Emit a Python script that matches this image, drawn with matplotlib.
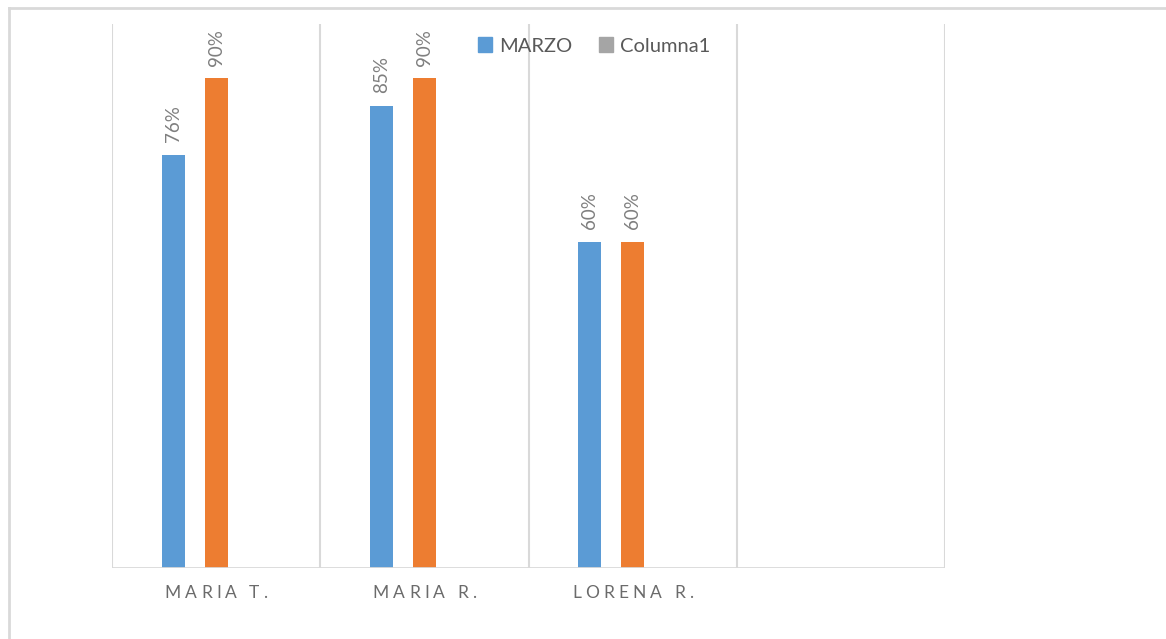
import matplotlib.pyplot as plt
import numpy as np
from matplotlib.lines import Line2D
from matplotlib.patches import Patch

# data
categories = ["MARIA T.", "MARIA R.", "LORENA R.", ""]
marzo = [0.76, 0.85, 0.60, np.nan]
serie2 = [0.90, 0.90, 0.60, np.nan]
columna1 = [np.nan, np.nan, np.nan, np.nan]

blue = "#5b9bd5"
orange = "#ed7d31"
gray = "#a5a5a5"
grid_c = "#d9d9d9"
text_c = "#595959"

plt.rcParams['font.family'] = ['Lato', 'DejaVu Sans']

fig = plt.figure(figsize=(11.66, 6.39), dpi=100)
ax = fig.add_axes([112 / 1166, 1 - 568 / 639, (945 - 112) / 1166, (568 - 24) / 639])

x = np.arange(len(categories))
off = 0.2065
w = 0.11

b1 = ax.bar(x - off, marzo, w, color=blue, zorder=3)
b2 = ax.bar(x, serie2, w, color=orange, zorder=3)
b3 = ax.bar(x + off, columna1, w, color=gray, zorder=3)

for bars, vals in [(b1, marzo), (b2, serie2)]:
    for rect, v in zip(bars, vals):
        if np.isnan(v):
            continue
        ax.annotate(f"{v:.0%}", (rect.get_x() + rect.get_width() / 2, v),
                    xytext=(0, 9), textcoords="offset points",
                    rotation=90, ha="center", va="bottom",
                    fontsize=13.5, color="#7f7f7f")

ax.set_xlim(-0.5, len(categories) - 0.5)
ax.set_ylim(0, 1.0)

# category separators
for xv in np.arange(len(categories) + 1) - 0.5:
    ax.axvline(xv, color=grid_c, lw=1.5, zorder=1)
ax.axhline(0, color=grid_c, lw=2, zorder=4)

for s in ax.spines.values():
    s.set_visible(False)
ax.set_yticks([])
ax.set_xticks([])

# category labels with wide letter spacing, like the Excel style
renderer = fig.canvas.get_renderer()
track = 4.2  # extra pixels between letters
lab_kw = dict(fontsize=12.5, color="#6b6b6b")
for xi, name in zip(x, categories):
    if not name:
        continue
    widths = []
    for ch in name:
        t = fig.text(0, 0, ch if ch != " " else "i", **lab_kw)
        widths.append(t.get_window_extent(renderer).width * (0.9 if ch == " " else 1))
        t.remove()
    total = sum(widths) + track * (len(name) - 1)
    pos = -total / 2
    for ch, wd in zip(name, widths):
        ax.annotate(ch, (xi, 0), xycoords=("data", "axes fraction"),
                    xytext=(pos, -25), textcoords="offset pixels",
                    ha="left", va="center", **lab_kw)
        pos += wd + track

handles = [Patch(color=blue, label="MARZO"), Patch(color=gray, label="Columna1")]
fig.legend(handles=handles, loc="center", bbox_to_anchor=(594 / 1166, 1 - 46 / 639),
           ncol=2, frameon=False, fontsize=14.5, labelcolor=text_c,
           handlelength=0.7, handleheight=0.7, handletextpad=0.35, columnspacing=1.3)

# outer chart border (only top and left are inside the crop)
fig.add_artist(Line2D([9 / 1166, 1.01], [1 - 8 / 639] * 2, color=grid_c, lw=2,
                      transform=fig.transFigure))
fig.add_artist(Line2D([9 / 1166] * 2, [-0.01, 1 - 8 / 639], color=grid_c, lw=2,
                      transform=fig.transFigure))

fig.savefig("out.png", dpi=100)
